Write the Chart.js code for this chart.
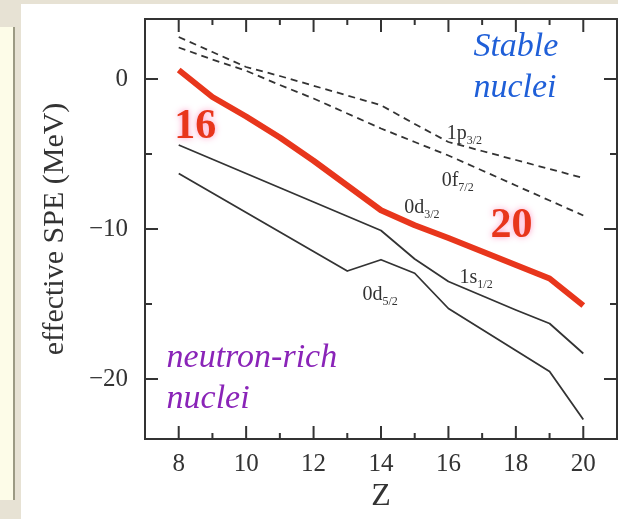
<!DOCTYPE html>
<html>
<head>
<meta charset="utf-8">
<script src="https://cdn.jsdelivr.net/npm/chart.js@4.4.1/dist/chart.umd.min.js"></script>
<style>
  html, body { margin: 0; padding: 0; }
  body { width: 618px; height: 519px; background: #e7e2d4; position: relative; overflow: hidden; }
  #side { position: absolute; left: 0; top: 27px; width: 13px; height: 473px; background: #fdfce8; border-right: 2px solid #9c9a84; }
  #panel { position: absolute; left: 21px; top: 4px; width: 597px; height: 515px; background: #fff; }
  #spe { position: absolute; left: 0; top: 0; }
</style>
</head>
<body>
<div id="side"></div>
<div id="panel"></div>
<canvas id="spe" width="618" height="519"></canvas>
<script>
// proton number Z
const Z = [8, 9, 10, 11, 12, 13, 14, 15, 16, 17, 18, 19, 20];

// effective single particle energies (MeV)
const p32 = [2.8, 1.8, 0.8, 0.2, -0.45, -1.1, -1.75, -3.0, -4.2, -4.8, -5.4, -6.0, -6.6];
const f72 = [2.1, 1.3, 0.55, -0.4, -1.3, -2.3, -3.3, -4.2, -5.1, -6.1, -7.1, -8.1, -9.1];
const d32 = [0.6, -1.2, -2.5, -3.9, -5.45, -7.1, -8.75, -9.75, -10.6, -11.5, -12.4, -13.3, -15.1];
const s12 = [-4.4, -5.35, -6.3, -7.25, -8.2, -9.15, -10.1, -12.0, -13.5, -14.45, -15.4, -16.3, -18.3];
const d52 = [-6.3, -7.6, -8.9, -10.2, -11.5, -12.8, -12.05, -12.95, -15.3, -16.7, -18.1, -19.5, -22.7];

// tick labels
const xTicks = [8, 10, 12, 14, 16, 18, 20];
const xMinor = [9, 11, 13, 15, 17, 19];
const yTicks = [0, -10, -20];
const yMinor = [-5, -15];

// orbit labels and region notes (in data units)
const orbitLabels = [
  { main: "1p", sub: "3/2", z: 15.95, e: -4.02 },
  { main: "0f", sub: "7/2", z: 15.8, e: -7.1 },
  { main: "0d", sub: "3/2", z: 14.69, e: -8.91 },
  { main: "1s", sub: "1/2", z: 16.33, e: -13.6 },
  { main: "0d", sub: "5/2", z: 13.45, e: -14.7 },
];
const notes = [
  { text: "16", z: 7.87, e: -3.95, kind: "magic" },
  { text: "20", z: 17.25, e: -10.55, kind: "magic" },
  { text: "Stable", z: 16.74, e: 1.54, kind: "stable" },
  { text: "nuclei", z: 16.74, e: -1.2, kind: "stable" },
  { text: "neutron-rich", z: 7.64, e: -19.22, kind: "rich" },
  { text: "nuclei", z: 7.64, e: -21.9, kind: "rich" },
];

const SERIF = '"Liberation Serif", "Times New Roman", serif';
const INK = "#333";
const RED = "#e8361c";

function pts(vals) {
  return Z.map((z, i) => ({ x: z, y: vals[i] }));
}

const frame = {
  id: "frame",
  afterDraw(chart) {
    const { ctx, chartArea: a, scales } = chart;
    const xs = scales.x, ys = scales.y;
    ctx.save();
    ctx.strokeStyle = INK;
    ctx.lineWidth = 2;
    ctx.strokeRect(a.left, a.top, a.right - a.left, a.bottom - a.top);
    ctx.beginPath();
    function xt(v, len) {
      let px = xs.getPixelForValue(v);
      ctx.moveTo(px, a.bottom); ctx.lineTo(px, a.bottom - len);
      ctx.moveTo(px, a.top); ctx.lineTo(px, a.top + len);
    }
    function yt(v, len) {
      let py = ys.getPixelForValue(v);
      ctx.moveTo(a.left, py); ctx.lineTo(a.left + len, py);
      ctx.moveTo(a.right, py); ctx.lineTo(a.right - len, py);
    }
    xTicks.forEach((v) => xt(v, 13));
    xMinor.forEach((v) => xt(v, 6));
    yTicks.forEach((v) => yt(v, 13));
    yMinor.forEach((v) => yt(v, 7));
    ctx.stroke();
    ctx.restore();
  },
  afterDatasetsDraw(chart) {
    const { ctx, scales } = chart;
    const xs = scales.x, ys = scales.y;
    ctx.save();
    ctx.textBaseline = "alphabetic";
    ctx.textAlign = "left";

    orbitLabels.forEach((l) => {
      let px = xs.getPixelForValue(l.z);
      let py = ys.getPixelForValue(l.e);
      ctx.fillStyle = INK;
      ctx.font = "20px " + SERIF;
      ctx.fillText(l.main, px, py);
      let w = ctx.measureText(l.main).width;
      ctx.font = "12px " + SERIF;
      ctx.fillText(l.sub, px + w, py + 5);
    });

    notes.forEach((n) => {
      let px = xs.getPixelForValue(n.z);
      let py = ys.getPixelForValue(n.e);
      ctx.save();
      if (n.kind == "magic") {
        ctx.font = "bold 42px " + SERIF;
        ctx.fillStyle = RED;
        ctx.shadowColor = "rgba(255, 140, 190, 0.9)";
        ctx.shadowBlur = 6;
      } else if (n.kind == "stable") {
        ctx.font = "italic 34px " + SERIF;
        ctx.fillStyle = "#1f5fd8";
      } else {
        ctx.font = "italic 34px " + SERIF;
        ctx.fillStyle = "#8a24b8";
      }
      ctx.fillText(n.text, px, py);
      ctx.restore();
    });
    ctx.restore();
  },
};

const dashed = { borderColor: INK, borderWidth: 1.8, borderDash: [7, 5] };
const solid = { borderColor: INK, borderWidth: 1.8 };

new Chart(document.getElementById("spe").getContext("2d"), {
  type: "line",
  data: {
    datasets: [
      { label: "1p3/2", data: pts(p32), ...dashed },
      { label: "0f7/2", data: pts(f72), ...dashed },
      { label: "1s1/2", data: pts(s12), ...solid },
      { label: "0d5/2", data: pts(d52), ...solid },
      { label: "0d3/2", data: pts(d32), borderColor: RED, borderWidth: 6 },
    ],
  },
  options: {
    responsive: false,
    animation: false,
    devicePixelRatio: 1,
    layout: { padding: { left: 0, right: 1, top: 19, bottom: 0 } },
    elements: {
      point: { radius: 0 },
      line: { tension: 0, borderJoinStyle: "round", borderCapStyle: "butt" },
    },
    plugins: { legend: { display: false }, tooltip: { enabled: false } },
    scales: {
      x: {
        type: "linear",
        min: 7,
        max: 21,
        afterFit: (s) => {
          s.height = 80;
          s.paddingLeft = 0;
          s.paddingRight = 0;
        },
        afterBuildTicks: (s) => { s.ticks = xTicks.map((v) => ({ value: v })); },
        grid: { display: false, drawTicks: false },
        border: { display: false },
        ticks: {
          padding: 10,
          color: INK,
          font: { family: SERIF, size: 25 },
          maxRotation: 0,
        },
        title: {
          display: true,
          text: "Z",
          color: INK,
          font: { family: SERIF, size: 32 },
          padding: { top: 0, bottom: 3 },
        },
      },
      y: {
        type: "linear",
        min: -24,
        max: 4,
        afterFit: (s) => {
          s.width = 145;
          s.paddingTop = 0;
          s.paddingBottom = 0;
        },
        afterBuildTicks: (s) => { s.ticks = yTicks.map((v) => ({ value: v })); },
        grid: { display: false, drawTicks: false },
        border: { display: false },
        ticks: {
          padding: 17,
          color: INK,
          font: { family: SERIF, size: 25 },
          callback: (v) => (v < 0 ? "\u2212" + Math.abs(v) : "" + v),
        },
        title: {
          display: true,
          text: "effective SPE (MeV)",
          color: INK,
          font: { family: SERIF, size: 30 },
          padding: { top: 37, bottom: 0 },
        },
      },
    },
  },
  plugins: [frame],
});
</script>
</body>
</html>
